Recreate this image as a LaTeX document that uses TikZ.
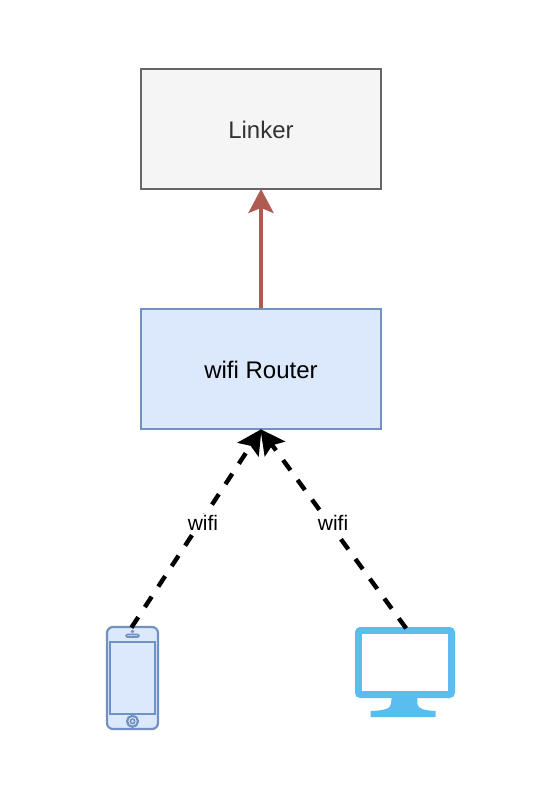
\documentclass[tikz,border=0pt]{standalone}
\usepackage{fontspec}
\setmainfont{Liberation Sans}
\usetikzlibrary{arrows.meta}
\definecolor{grayfill}{HTML}{F5F5F5}
\definecolor{graystroke}{HTML}{666666}
\definecolor{graytext}{HTML}{333333}
\definecolor{bluefill}{HTML}{DCE8FB}
\definecolor{bluestroke}{HTML}{7391C0}
\definecolor{redline}{HTML}{AE5B52}
\definecolor{monitorblue}{HTML}{59BDEF}
\tikzset{
  x=1pt,y=-1pt,
  boxnode/.style={draw,line width=1.8pt,minimum width=240pt,minimum height=120pt,inner sep=0pt,font=\fontsize{24}{28}\selectfont},
  linkerbox/.style={boxnode,fill=grayfill,draw=graystroke,text=graytext},
  routerbox/.style={boxnode,fill=bluefill,draw=bluestroke,text=black},
  wifilink/.style={line width=4.4pt,draw=black,dash pattern=on 12.5pt off 12pt,shorten <=-2pt,shorten >=-1pt,-{Stealth[length=24.5pt,width=25pt,inset=4.5pt]}},
  uplink/.style={line width=4.4pt,draw=redline,shorten >=-1pt,-{Stealth[length=24pt,width=25pt,inset=5pt]}},
  wifilabel/.style={fill=white,inner sep=1pt,font=\fontsize{21}{24}\selectfont},
  phonestroke/.style={draw=bluestroke,line width=2.2pt,fill=bluefill}
}
\begin{document}
\begin{tikzpicture}
\useasboundingbox (0,0) rectangle (558,786);
\fill[white] (0,0) rectangle (558,786);
\node[linkerbox] (linker) at (261,129) {\raisebox{-1pt}[\height][\depth]{Linker}};
\node[routerbox] (router) at (261,369) {\raisebox{-1pt}[\height][\depth]{wifi Router}};
% phone
\node[phonestroke,rounded corners=6pt,minimum width=51pt,minimum height=102pt,inner sep=0pt] (phone) at (132.5,678) {};
\draw[phonestroke] (110,642) rectangle (155,714);
\draw[phonestroke] (132.5,721.3) circle (5.5);
\draw[phonestroke,line width=1.6pt] (132.5,721.3) circle (2.2);
\draw[phonestroke,line width=1.6pt,rounded corners=1.2pt] (126,634.5) rectangle (139,637);
\fill[bluestroke] (132.5,631.5) circle (1.8);
% monitor
\node[fill=monitorblue,rounded corners=5pt,minimum width=100pt,minimum height=71pt,inner sep=0pt] (monitor) at (405,662.5) {};
\fill[white] (362.3,634.3) rectangle (447.7,690.7);
\fill[monitorblue] (391.7,697) -- (391,704) .. controls (390.5,709) and (383,710.5) .. (370.7,711) -- (370.7,717) -- (435.7,717) -- (435.7,711)
  .. controls (425,710.5) and (417.8,709) .. (417.3,704) -- (417.3,697) -- cycle;
% connectors
\draw[uplink] (router.north) -- (linker.south);
\draw[wifilink] (phone.north) -- (router.south);
\draw[wifilink] (monitor.north) -- (router.south);
\node[wifilabel] (wifia) at (203,523) {wifi};
\node[wifilabel] (wifib) at (333,523) {wifi};
\end{tikzpicture}
\end{document}
